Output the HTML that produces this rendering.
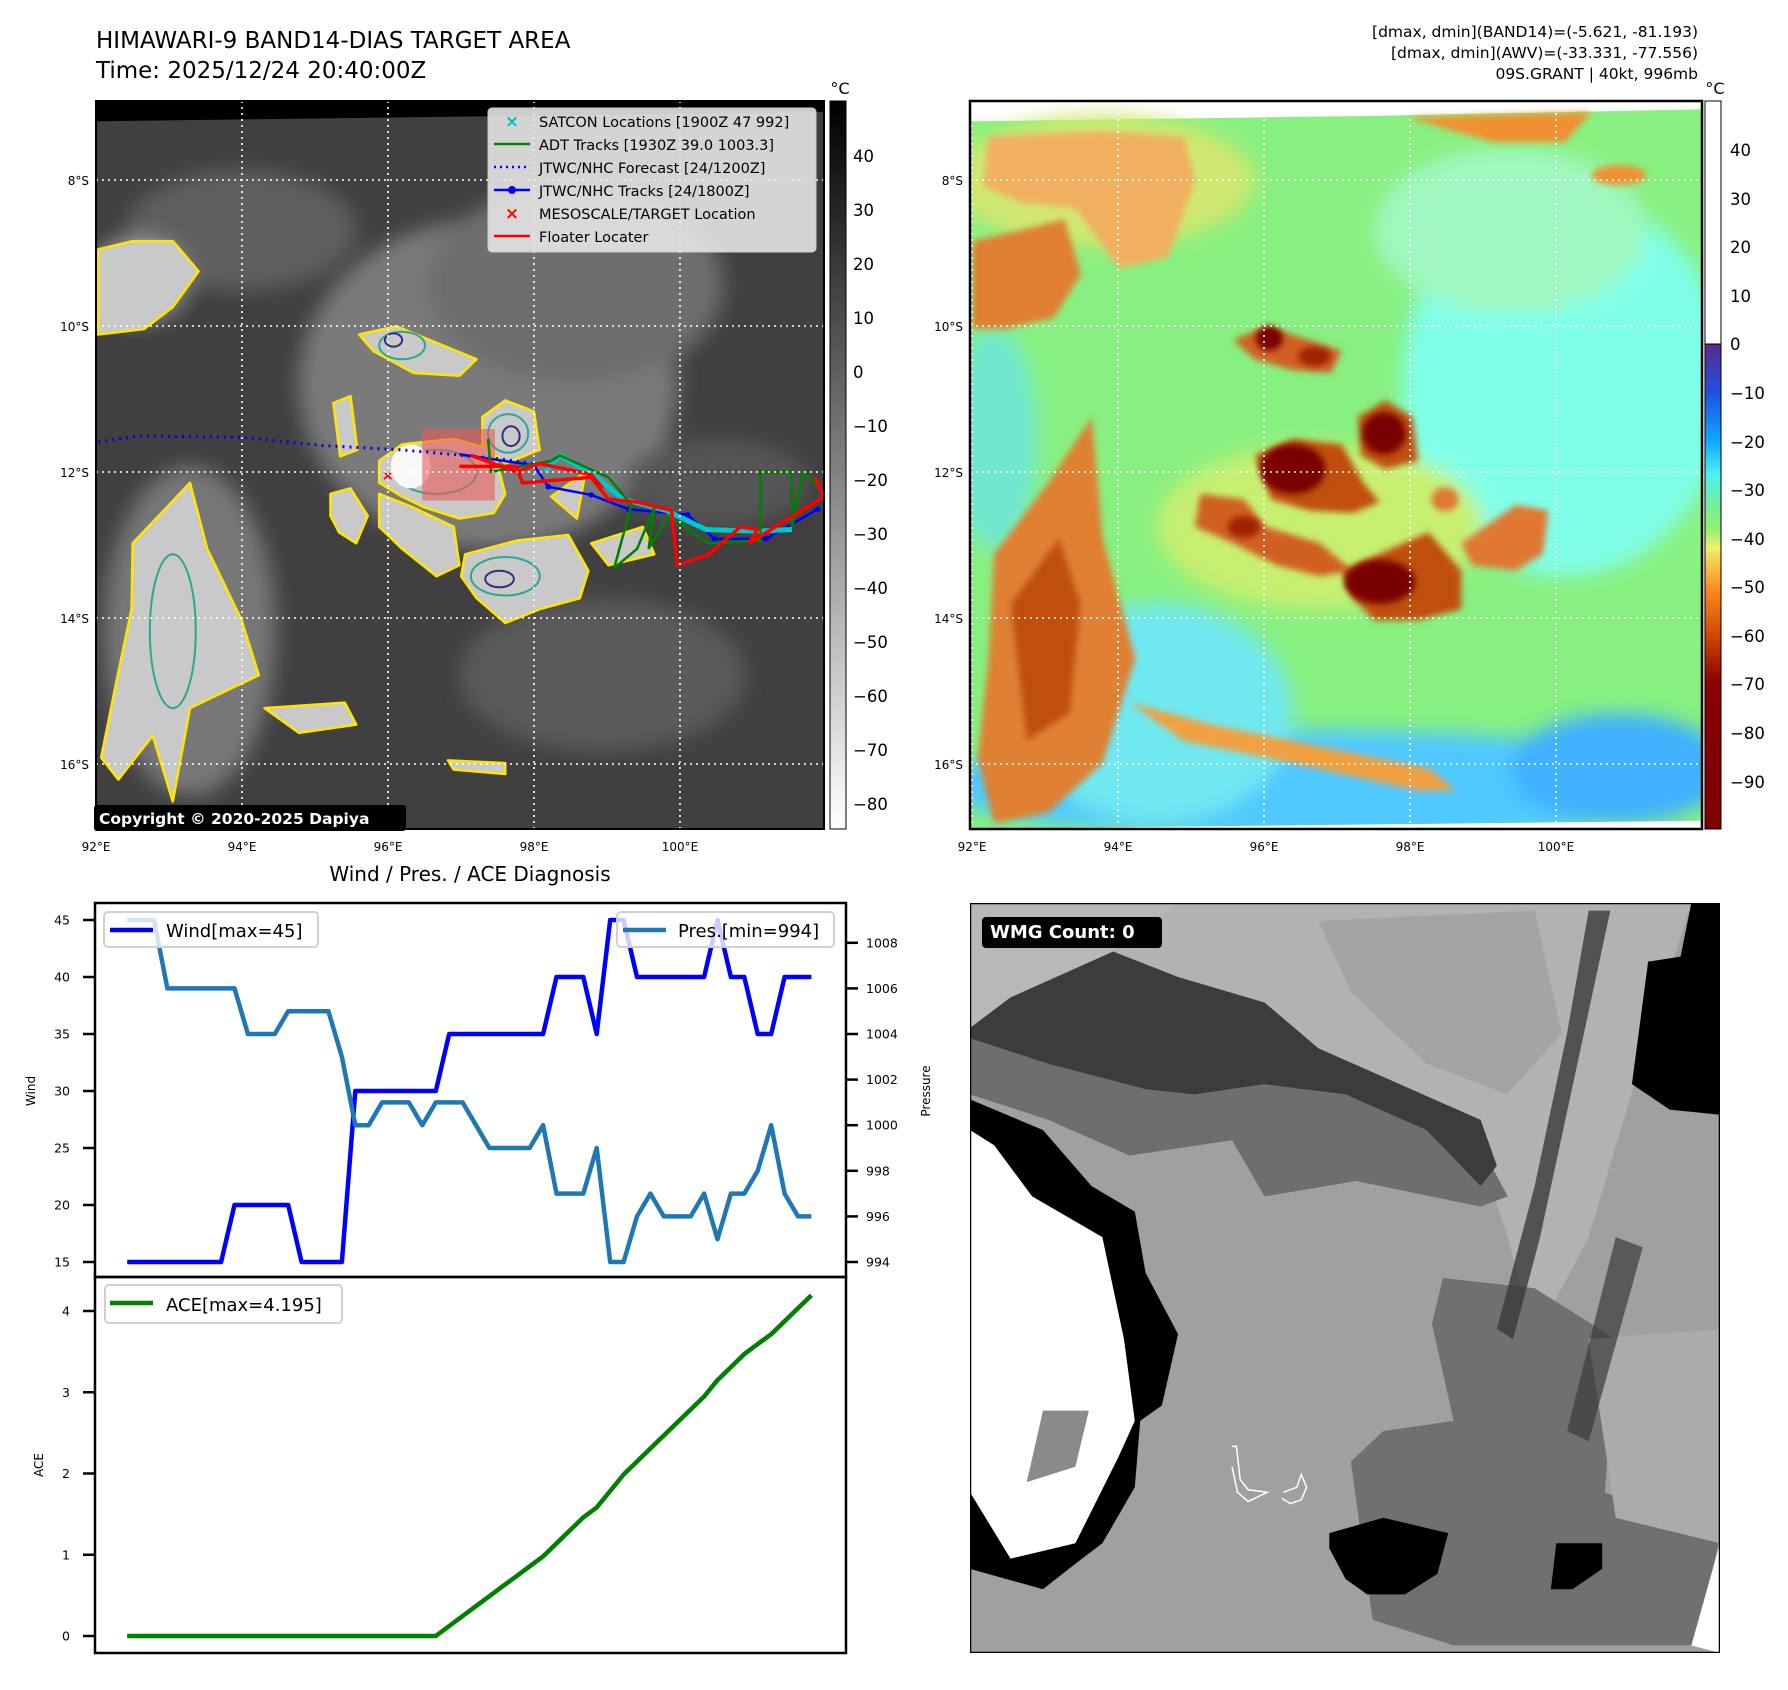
<!DOCTYPE html>
<html><head><meta charset="utf-8">
<style>
body{margin:0;background:#fff;}
#root{position:relative;width:1788px;height:1690px;overflow:hidden;background:#fff;font-family:"DejaVu Sans","Liberation Sans",sans-serif;color:#000;}
.abs{position:absolute;}
.t{position:absolute;white-space:nowrap;}
</style></head>
<body>
<div id="root">

<div class="t" style="left:96px;top:26px;font-size:23px;line-height:30px;">HIMAWARI-9 BAND14-DIAS TARGET AREA<br>Time: 2025/12/24 20:40:00Z</div>
<div class="t" style="right:90px;top:22px;font-size:15.5px;line-height:21px;text-align:right;">[dmax, dmin](BAND14)=(-5.621, -81.193)<br>[dmax, dmin](AWV)=(-33.331, -77.556)<br>09S.GRANT | 40kt, 996mb</div>

<!-- LEFT MAP -->
<svg class="abs" style="left:0;top:0" width="1788" height="880">
 <defs>
  <filter id="bl" x="-50%" y="-50%" width="200%" height="200%"><feGaussianBlur stdDeviation="18"/></filter>
  <filter id="bl2" x="-50%" y="-50%" width="200%" height="200%"><feGaussianBlur stdDeviation="6"/></filter>
  <linearGradient id="gcb" x1="0" y1="0" x2="0" y2="1"><stop offset="0" stop-color="#000"/><stop offset="1" stop-color="#fff"/></linearGradient>
  <linearGradient id="ccb" x1="0" y1="0" x2="0" y2="1">
   <stop offset="0" stop-color="#5a2a8a"/><stop offset="0.1" stop-color="#2050e0"/><stop offset="0.2" stop-color="#10a8ff"/><stop offset="0.27" stop-color="#50f0f0"/><stop offset="0.33" stop-color="#70f0a0"/><stop offset="0.38" stop-color="#90f070"/><stop offset="0.42" stop-color="#f0f070"/><stop offset="0.5" stop-color="#ff9020"/><stop offset="0.6" stop-color="#d04800"/><stop offset="0.7" stop-color="#880000"/><stop offset="1" stop-color="#800000"/>
  </linearGradient>
  <clipPath id="clipL"><rect x="96" y="101" width="728" height="728"/></clipPath>
  <clipPath id="clipR"><rect x="970" y="101" width="732" height="728"/></clipPath>
 </defs>
 <g clip-path="url(#clipL)">
  <svg x="96" y="101" width="728" height="728" viewBox="166 185 1270 1325" preserveAspectRatio="none">
   <rect x="166" y="185" width="1270" height="1325" fill="#404040"/>
   <g filter="url(#bl)">
    <ellipse cx="850" cy="700" rx="330" ry="300" fill="#7a7a7a"/>
    <ellipse cx="1000" cy="520" rx="260" ry="180" fill="#6e6e6e"/>
    <ellipse cx="420" cy="420" rx="200" ry="110" fill="#5e5e5e"/>
    <ellipse cx="1050" cy="1230" rx="250" ry="140" fill="#5a5a5a"/>
    <ellipse cx="330" cy="1150" rx="150" ry="300" fill="#777"/>
    <ellipse cx="240" cy="510" rx="90" ry="80" fill="#909090"/>
    <ellipse cx="1250" cy="880" rx="160" ry="80" fill="#555"/>
   </g>
   <polygon points="166,185 1436,185 1436,205 166,222" fill="#000"/>
   <g fill="#c9c9c9" stroke="#ffe600" stroke-width="2.5" stroke-linejoin="round">
    <path vector-effect="non-scaling-stroke" d="M170,455 L230,440 L300,440 L345,495 L300,560 L250,600 L170,610Z"/>
    <path vector-effect="non-scaling-stroke" d="M230,990 L330,880 L360,1000 L420,1130 L450,1230 L390,1260 L330,1290 L300,1460 L265,1340 L205,1420 L175,1380 L200,1250 L228,1110Z"/>
    <path vector-effect="non-scaling-stroke" d="M660,840 L700,810 L790,800 L860,820 L880,900 L860,935 L800,945 L740,925 L700,905 L660,880Z"/>
    <path vector-effect="non-scaling-stroke" d="M840,760 L880,730 L930,750 L940,820 L880,845 L840,810Z"/>
    <path vector-effect="non-scaling-stroke" d="M810,1010 L900,985 L990,975 L1025,1040 L1010,1090 L940,1110 L880,1135 L830,1090 L803,1050Z"/>
    <path vector-effect="non-scaling-stroke" d="M625,610 L690,595 L760,625 L830,655 L800,685 L720,680 L650,640Z"/>
    <path vector-effect="non-scaling-stroke" d="M575,900 L610,890 L640,940 L620,990 L590,970 L575,940Z"/>
    <path vector-effect="non-scaling-stroke" d="M660,900 L720,925 L790,960 L800,1030 L760,1050 L700,1000 L660,960Z"/>
    <path vector-effect="non-scaling-stroke" d="M580,735 L610,722 L622,820 L592,832Z"/>
    <path vector-effect="non-scaling-stroke" d="M460,1290 L600,1280 L620,1320 L520,1335Z"/>
    <path vector-effect="non-scaling-stroke" d="M780,1385 L880,1390 L880,1410 L790,1402Z"/>
    <path vector-effect="non-scaling-stroke" d="M960,905 L1020,860 L1005,945Z"/>
    <path vector-effect="non-scaling-stroke" d="M1030,990 L1120,960 L1140,1010 L1060,1030Z"/>
   </g>
   <g fill="none" stroke="#2aa890" stroke-width="2">
    <ellipse vector-effect="non-scaling-stroke" cx="880" cy="1050" rx="60" ry="35"/>
    <ellipse vector-effect="non-scaling-stroke" cx="760" cy="860" rx="70" ry="40"/>
    <ellipse vector-effect="non-scaling-stroke" cx="885" cy="790" rx="35" ry="35"/>
    <ellipse vector-effect="non-scaling-stroke" cx="700" cy="630" rx="40" ry="25"/>
    <ellipse vector-effect="non-scaling-stroke" cx="300" cy="1150" rx="40" ry="140"/>
   </g>
   <g fill="none" stroke="#303080" stroke-width="2">
    <ellipse vector-effect="non-scaling-stroke" cx="870" cy="1055" rx="25" ry="15"/>
    <ellipse vector-effect="non-scaling-stroke" cx="890" cy="795" rx="15" ry="18"/>
    <ellipse vector-effect="non-scaling-stroke" cx="685" cy="620" rx="15" ry="12"/>
   </g>
   <ellipse cx="715" cy="850" rx="35" ry="40" fill="#f8f8f8"/>
   <rect x="735" y="782" width="127" height="130" fill="rgba(235,90,90,0.6)"/>
   <polyline points="170,805 240,795 420,797 560,812 700,820 860,835 930,845" fill="none" stroke="#0000ee" stroke-width="3" stroke-dasharray="2,5" vector-effect="non-scaling-stroke"/>
   <polyline points="800,828 930,848 955,887 1030,902 1095,928 1198,938 1245,982 1335,982 1425,928" fill="none" stroke="#0000ff" stroke-width="2.5" vector-effect="non-scaling-stroke"/>
   <g fill="#0000ff"><circle cx="930" cy="848" r="5"/><circle cx="955" cy="887" r="5"/><circle cx="1030" cy="902" r="5"/><circle cx="1095" cy="928" r="5"/><circle cx="1198" cy="938" r="5"/><circle cx="1245" cy="982" r="5"/><circle cx="1335" cy="982" r="5"/><circle cx="1425" cy="928" r="5"/></g>
   <polyline points="950,860 975,830 1030,862 1085,910 1160,930 1230,965 1320,968 1380,965" fill="none" stroke="#00c8c8" stroke-width="5" vector-effect="non-scaling-stroke"/>
   <polyline points="850,800 855,860 960,840 975,830 1060,870 1100,920 1070,1035 1110,1000 1140,925 1130,1000 1165,940 1235,990 1325,985 1325,860 1380,860 1380,960 1400,860 1430,890" fill="none" stroke="#008000" stroke-width="2.5" vector-effect="non-scaling-stroke"/>
   <polyline points="800,850 900,850 910,880 1030,870 1060,910 1110,915 1170,930 1180,1030 1235,1010 1290,960 1320,965 1305,990 1436,905 1420,870" fill="none" stroke="#ff0000" stroke-width="3.5" vector-effect="non-scaling-stroke"/>
   <polyline points="820,830 900,860 940,845 1030,865 1050,890" fill="none" stroke="#ff0000" stroke-width="3.5" vector-effect="non-scaling-stroke"/>
   <text x="675" y="875" fill="#ff0000" font-size="26" font-weight="bold" text-anchor="middle">×</text>
  </svg>
 </g>
 <g stroke="#fff" stroke-width="1.6" stroke-dasharray="2,4">
  <line x1="96" y1="101" x2="96" y2="829"/><line x1="242" y1="101" x2="242" y2="829"/><line x1="388" y1="101" x2="388" y2="829"/><line x1="534" y1="101" x2="534" y2="829"/><line x1="680" y1="101" x2="680" y2="829"/>
  <line x1="96" y1="180" x2="824" y2="180"/><line x1="96" y1="326" x2="824" y2="326"/><line x1="96" y1="472" x2="824" y2="472"/><line x1="96" y1="618" x2="824" y2="618"/><line x1="96" y1="764" x2="824" y2="764"/>
 </g>
 <rect x="96" y="101" width="728" height="728" fill="none" stroke="#000" stroke-width="2"/>
 <g>
  <rect x="488" y="108" width="328" height="144" rx="4" fill="rgba(232,232,232,0.88)" stroke="#ccc"/>
  <text x="512" y="127" font-size="17" fill="#00c0c0" text-anchor="middle" font-weight="bold">×</text>
  <line x1="494" y1="144" x2="530" y2="144" stroke="#008000" stroke-width="2.5"/>
  <line x1="494" y1="167" x2="530" y2="167" stroke="#0000ff" stroke-width="2.5" stroke-dasharray="2,4"/>
  <line x1="494" y1="190" x2="530" y2="190" stroke="#0000ff" stroke-width="2.5"/><circle cx="512" cy="190" r="4" fill="#0000ff"/>
  <text x="512" y="219" font-size="17" fill="#ff0000" text-anchor="middle" font-weight="bold">×</text>
  <line x1="494" y1="236" x2="530" y2="236" stroke="#ff0000" stroke-width="2.5"/>
  <g font-size="14.5" fill="#000">
   <text x="539" y="127">SATCON Locations [1900Z 47 992]</text>
   <text x="539" y="150">ADT Tracks [1930Z 39.0 1003.3]</text>
   <text x="539" y="173">JTWC/NHC Forecast [24/1200Z]</text>
   <text x="539" y="196">JTWC/NHC Tracks [24/1800Z]</text>
   <text x="539" y="219">MESOSCALE/TARGET Location</text>
   <text x="539" y="242">Floater Locater</text>
  </g>
 </g>
 <rect x="94" y="805" width="312" height="26" rx="3" fill="#000"/>
 <text x="99" y="824" font-size="15.5" font-weight="bold" fill="#fff">Copyright © 2020-2025 Dapiya</text>
 <g font-size="12" fill="#000" text-anchor="end">
  <text x="89" y="185">8°S</text><text x="89" y="331">10°S</text><text x="89" y="477">12°S</text><text x="89" y="623">14°S</text><text x="89" y="769">16°S</text>
 </g>
 <g font-size="12" fill="#000" text-anchor="middle">
  <text x="96" y="851">92°E</text><text x="242" y="851">94°E</text><text x="388" y="851">96°E</text><text x="534" y="851">98°E</text><text x="680" y="851">100°E</text>
 </g>
 <rect x="830" y="101" width="16" height="728" fill="url(#gcb)" stroke="#000" stroke-width="1"/>
 <text x="840" y="94" font-size="16" text-anchor="middle">°C</text>
 <g font-size="16.5" fill="#000">
  <text x="853" y="162">40</text><text x="853" y="216">30</text><text x="853" y="270">20</text><text x="853" y="324">10</text><text x="853" y="378">0</text>
  <text x="853" y="432">−10</text><text x="853" y="486">−20</text><text x="853" y="540">−30</text><text x="853" y="594">−40</text><text x="853" y="648">−50</text>
  <text x="853" y="702">−60</text><text x="853" y="756">−70</text><text x="853" y="810">−80</text>
 </g>

 <!-- RIGHT MAP -->
 <g clip-path="url(#clipR)">
  <svg x="970" y="101" width="732" height="728" viewBox="56 185 1347 1325" preserveAspectRatio="none">
   <rect x="56" y="185" width="1347" height="1325" fill="#fff"/>
   <polygon points="56,222 800,212 1403,200 1403,1495 56,1510" fill="#88f080"/>
   <g filter="url(#bl)">
    <ellipse cx="1150" cy="700" rx="300" ry="350" fill="#80ffe8"/>
    <ellipse cx="1050" cy="420" rx="250" ry="150" fill="#a0f8c0"/>
    <ellipse cx="700" cy="1430" rx="700" ry="100" fill="#50c8ff"/>
    <ellipse cx="1250" cy="1400" rx="200" ry="100" fill="#40b0ff"/>
    <ellipse cx="400" cy="1300" rx="250" ry="200" fill="#70e8f0"/>
    <ellipse cx="300" cy="330" rx="280" ry="120" fill="#d0e870"/>
    <ellipse cx="100" cy="800" rx="80" ry="200" fill="#70e8d0"/>
    <ellipse cx="700" cy="960" rx="300" ry="150" fill="#c8f070"/>
   </g>
   <g filter="url(#bl2)">
    <path d="M60,440 L150,420 L230,400 L260,500 L210,580 L120,600 L60,600Z" fill="#e08030"/>
    <path d="M90,250 L300,240 L450,250 L470,330 L420,470 L330,490 L250,380 L150,370 L80,340Z" fill="#f0b060"/>
    <path d="M100,1010 L200,880 L280,760 L300,980 L360,1200 L300,1390 L200,1480 L100,1500 L70,1380 L90,1200Z" fill="#e08030"/>
    <path d="M130,1100 L220,980 L260,1100 L240,1300 L160,1350Z" fill="#c05010"/>
    <path d="M860,215 L1200,205 L1150,260 L1020,260Z" fill="#f09030"/>
    <ellipse cx="1250" cy="320" rx="50" ry="18" fill="#f09030"/>
    <path d="M540,620 L600,595 L680,620 L740,640 L720,680 L650,675 L580,655Z" fill="#d06020"/>
    <path d="M580,830 L650,800 L740,810 L780,880 L810,915 L760,935 L680,930 L610,910Z" fill="#c05010"/>
    <path d="M770,760 L820,730 L870,760 L880,840 L820,855 L775,830Z" fill="#c05010"/>
    <path d="M480,900 L560,910 L600,960 L700,990 L760,1040 L700,1050 L620,1030 L540,990 L470,960Z" fill="#d06020"/>
    <path d="M740,1040 L830,1000 L900,970 L960,1040 L960,1110 L880,1130 L800,1130 L760,1090Z" fill="#c05010"/>
    <path d="M960,990 L1060,920 L1120,930 L1110,1010 L1060,1040 L980,1030Z" fill="#e07830"/>
    <path d="M350,1280 L500,1320 L700,1360 L900,1400 L950,1440 L880,1440 L650,1390 L450,1350Z" fill="#f0a040"/>
    <ellipse cx="930" cy="910" rx="25" ry="22" fill="#e07830"/>
   </g>
   <g fill="#7a0000" filter="url(#bl2)">
    <ellipse cx="607" cy="617" rx="25" ry="22"/>
    <ellipse cx="690" cy="650" rx="30" ry="18" fill="#a02000"/>
    <ellipse cx="650" cy="855" rx="60" ry="45"/>
    <ellipse cx="818" cy="790" rx="40" ry="38"/>
    <ellipse cx="810" cy="1060" rx="65" ry="40"/>
    <ellipse cx="560" cy="960" rx="30" ry="20" fill="#a02000"/>
   </g>
   <polygon points="56,1510 1403,1495 1403,1510" fill="#fff"/>
  </svg>
 </g>
 <g stroke="#fff" stroke-width="1.6" stroke-dasharray="2,4">
  <line x1="972" y1="101" x2="972" y2="829"/><line x1="1118" y1="101" x2="1118" y2="829"/><line x1="1264" y1="101" x2="1264" y2="829"/><line x1="1410" y1="101" x2="1410" y2="829"/><line x1="1556" y1="101" x2="1556" y2="829"/>
  <line x1="970" y1="180" x2="1702" y2="180"/><line x1="970" y1="326" x2="1702" y2="326"/><line x1="970" y1="472" x2="1702" y2="472"/><line x1="970" y1="618" x2="1702" y2="618"/><line x1="970" y1="764" x2="1702" y2="764"/>
 </g>
 <rect x="970" y="101" width="732" height="728" fill="none" stroke="#000" stroke-width="2.5"/>
 <g font-size="12" fill="#000" text-anchor="end">
  <text x="963" y="185">8°S</text><text x="963" y="331">10°S</text><text x="963" y="477">12°S</text><text x="963" y="623">14°S</text><text x="963" y="769">16°S</text>
 </g>
 <g font-size="12" fill="#000" text-anchor="middle">
  <text x="972" y="851">92°E</text><text x="1118" y="851">94°E</text><text x="1264" y="851">96°E</text><text x="1410" y="851">98°E</text><text x="1556" y="851">100°E</text>
 </g>
 <rect x="1705" y="101" width="16" height="243" fill="#fff" stroke="#000" stroke-width="1"/>
 <rect x="1705" y="344" width="16" height="485" fill="url(#ccb)" stroke="#000" stroke-width="1"/>
 <text x="1715" y="94" font-size="16" text-anchor="middle">°C</text>
 <g font-size="16.5" fill="#000">
  <text x="1730" y="156">40</text><text x="1730" y="205">30</text><text x="1730" y="253">20</text><text x="1730" y="302">10</text><text x="1730" y="350">0</text>
  <text x="1730" y="399">−10</text><text x="1730" y="448">−20</text><text x="1730" y="496">−30</text><text x="1730" y="545">−40</text><text x="1730" y="593">−50</text>
  <text x="1730" y="642">−60</text><text x="1730" y="690">−70</text><text x="1730" y="739">−80</text><text x="1730" y="788">−90</text>
 </g>
</svg>

<!-- BOTTOM LEFT CHART -->
<svg class="abs" style="left:0;top:860px" width="960" height="830" viewBox="0 860 960 830" id="diag">
 <text x="470" y="881" font-size="20" text-anchor="middle">Wind / Pres. / ACE Diagnosis</text>
 <g id="plots"></g>
 <rect x="95" y="903" width="751" height="374" fill="none" stroke="#000" stroke-width="2.5"/>
 <rect x="95" y="1277" width="751" height="376" fill="none" stroke="#000" stroke-width="2.5"/>
 <text transform="translate(35,1091) rotate(-90)" font-size="12" text-anchor="middle">Wind</text>
 <text transform="translate(930,1091) rotate(-90)" font-size="12" text-anchor="middle">Pressure</text>
 <text transform="translate(43,1465) rotate(-90)" font-size="12" text-anchor="middle">ACE</text>
 <g id="ticks"></g>
 <g>
  <rect x="104" y="912" width="214" height="35" rx="4" fill="rgba(255,255,255,0.8)" stroke="#d0d0d0" stroke-width="2"/>
  <line x1="110" y1="930" x2="153" y2="930" stroke="#0000ff" stroke-width="4.5"/>
  <text x="166" y="937" font-size="18">Wind[max=45]</text>
 </g>
 <g>
  <rect x="617" y="912" width="217" height="35" rx="4" fill="rgba(255,255,255,0.8)" stroke="#d0d0d0" stroke-width="2"/>
  <line x1="623" y1="930" x2="666" y2="930" stroke="#1f77b4" stroke-width="4.5"/>
  <text x="678" y="937" font-size="18">Pres.[min=994]</text>
 </g>
 <g>
  <rect x="105" y="1285" width="237" height="38" rx="4" fill="rgba(255,255,255,0.8)" stroke="#d0d0d0" stroke-width="2"/>
  <line x1="110" y1="1303" x2="153" y2="1303" stroke="#008000" stroke-width="4.5"/>
  <text x="166" y="1311" font-size="18">ACE[max=4.195]</text>
 </g>
</svg>

<!-- BOTTOM RIGHT -->
<svg class="abs" style="left:970px;top:903px" width="750" height="750" viewBox="55 45 1388 1470" preserveAspectRatio="none">
 <rect x="55" y="45" width="1388" height="1470" fill="#a0a0a0"/>
 <polygon points="440,45 1390,45 1290,380 1200,700 1100,900 1050,700 980,480 800,380 640,300 500,220 320,140" fill="#b2b2b2"/>
 <polygon points="700,80 1100,60 1150,300 1050,420 900,360 760,220" fill="#a4a4a4"/>
 <polygon points="55,45 440,45 320,140 130,230 55,290" fill="#b8b8b8"/>
 <polygon points="55,300 200,290 460,250 600,300 750,400 1000,520 1050,620 1000,640 770,590 600,620 540,510 350,540 200,470 55,420" fill="#6e6e6e"/>
 <polygon points="55,290 130,230 320,140 440,190 600,240 700,330 1000,470 1030,560 1000,600 900,490 750,420 600,400 470,420 380,410 200,360 55,310" fill="#3c3c3c"/>
 <polygon points="930,780 1100,800 1250,900 1230,1200 1440,1300 1400,1500 950,1500 800,1450 760,1140 820,1080 950,1060 910,870" fill="#707070"/>
 <polygon points="1200,900 1443,880 1443,1300 1250,1250" fill="#ababab"/>
 <polygon points="1200,60 1240,60 1110,700 1060,900 1030,880 1100,600 1160,300" fill="#3a3a3a" opacity="0.8"/>
 <polygon points="1250,700 1300,720 1200,1100 1160,1080" fill="#3a3a3a" opacity="0.7"/>
 <polygon points="55,430 190,490 280,600 360,650 380,770 440,890 410,1030 370,1060 360,1190 300,1300 250,1340 190,1390 55,1350" fill="#000"/>
 <polygon points="55,490 100,520 170,620 300,700 340,900 360,1060 330,1130 250,1300 130,1330 55,1200" fill="#fff"/>
 <polygon points="190,1040 275,1040 250,1150 160,1180" fill="#8a8a8a"/>
 <polygon points="1390,45 1443,45 1443,460 1350,450 1280,400 1310,160 1370,150" fill="#000"/>
 <polygon points="720,1280 820,1250 940,1280 920,1360 860,1400 790,1400 750,1370 720,1310" fill="#000"/>
 <polygon points="1140,1300 1225,1300 1225,1350 1170,1390 1130,1390" fill="#000"/>
 <polygon points="1390,1500 1443,1300 1443,1515" fill="#fff"/>
 <polyline points="540,1110 548,1110 555,1175 570,1195 605,1200 570,1218 550,1200 540,1150" fill="none" stroke="#fff" stroke-width="1.5" vector-effect="non-scaling-stroke"/>
 <polyline points="635,1200 660,1190 668,1165 678,1190 668,1215 648,1222 632,1212" fill="none" stroke="#fff" stroke-width="1.5" vector-effect="non-scaling-stroke"/>
 <rect x="55" y="45" width="1388" height="1470" fill="none" stroke="#000" stroke-width="2.5" vector-effect="non-scaling-stroke"/>
</svg>
<div class="abs" style="left:982px;top:917px;width:180px;height:31px;background:#000;border-radius:4px;color:#fff;font-weight:bold;font-size:18px;line-height:31px;text-indent:8px;">WMG Count: 0</div>

<script>
const windValues = [15,15,15,15,15,15,15,15,20,20,20,20,20,15,15,15,15,30,30,30,30,30,30,30,35,35,35,35,35,35,35,35,40,40,40,35,45,45,40,40,40,40,40,40,45,40,40,35,35,40,40,40];
const presValues = [1009,1009,1009,1006,1006,1006,1006,1006,1006,1004,1004,1004,1005,1005,1005,1005,1003,1000,1000,1001,1001,1001,1000,1001,1001,1001,1000,999,999,999,999,1000,997,997,997,999,994,994,996,997,996,996,996,997,995,997,997,998,1000,997,996,996];
const aceValues = [0,0,0,0,0,0,0,0,0,0,0,0,0,0,0,0,0,0,0,0,0,0,0,0,0.1225,0.245,0.3675,0.49,0.6125,0.735,0.8575,0.98,1.14,1.30,1.46,1.5825,1.785,1.9875,2.1475,2.3075,2.4675,2.6275,2.7875,2.9475,3.15,3.31,3.47,3.5925,3.715,3.875,4.035,4.195];
const windTicks = [15,20,25,30,35,40,45];
const presTicks = [994,996,998,1000,1002,1004,1006,1008];
const aceTicks = [0,1,2,3,4];

const NS='http://www.w3.org/2000/svg';
const xS = i => 127.2 + i*(811.4-127.2)/(windValues.length-1);
const yWind = v => 920 + (45 - v)*11.4;
const yPres = p => 1262 - (p - 994)*22.8;
const yAce = a => 1636 - a*81.25;
const plots = document.getElementById('plots');
const ticks = document.getElementById('ticks');

function poly(vals, yf, color, name){
  const pl = document.createElementNS(NS,'polyline');
  pl.setAttribute('points', vals.map((v,i)=>xS(i).toFixed(1)+','+yf(v).toFixed(1)).join(' '));
  pl.setAttribute('fill','none');
  pl.setAttribute('stroke',color);
  pl.setAttribute('stroke-width','4.5');
  pl.setAttribute('stroke-linejoin','round');
  
  
  plots.appendChild(pl);
}
poly(windValues, yWind, '#0000ff', 'wind-line');
poly(presValues, yPres, '#1f77b4', 'pressure-line');
poly(aceValues, yAce, '#008000', 'ace-line');

function tick(x1,x2,y,label,tx,anchor){
  const l=document.createElementNS(NS,'line');
  l.setAttribute('x1',x1);l.setAttribute('x2',x2);l.setAttribute('y1',y);l.setAttribute('y2',y);
  l.setAttribute('stroke','#000');l.setAttribute('stroke-width','2.5');
  
  
  ticks.appendChild(l);
  const t=document.createElementNS(NS,'text');
  t.setAttribute('x',tx);t.setAttribute('y',y+4.5);t.setAttribute('font-size','12.5');t.setAttribute('text-anchor',anchor);
  t.textContent=label;
  
  
  ticks.appendChild(t);
}
windTicks.forEach(v=>tick(83,95,yWind(v),String(v),70,'end'));
presTicks.forEach(p=>tick(846,858,yPres(p),String(p),866,'start'));
aceTicks.forEach(a=>tick(83,95,yAce(a),String(a),70,'end'));
</script>
</div>
</body></html>
